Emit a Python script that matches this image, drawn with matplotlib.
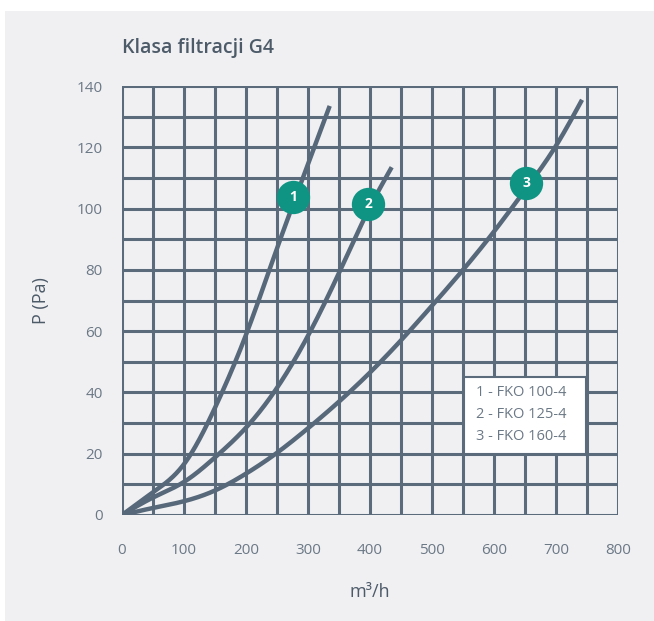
import numpy as np
import matplotlib.pyplot as plt
from matplotlib.patches import Rectangle

plt.rcParams['font.family'] = ['Open Sans', 'DejaVu Sans']

# Pressure drop curves, airflow in m3/h vs pressure in Pa
flow_1 = [0, 50, 100, 150, 200, 250, 300, 335]
pres_1 = [0, 7.4, 16.6, 35, 58.8, 87, 114.5, 133.5]

flow_2 = [0, 50, 100, 150, 200, 250, 300, 350, 400, 435]
pres_2 = [0, 5.7, 10.8, 18.8, 28.5, 41.5, 58.5, 79, 100.5, 113.5]

flow_3 = [0, 50, 100, 150, 200, 250, 300, 350, 400, 450, 500, 550, 600, 650, 700, 742]
pres_3 = [0, 2.3, 4.5, 8.0, 13.5, 20.3, 28.3, 37, 46.5, 57, 68.3, 80, 92.5, 106, 120.5, 135.5]

# Numbered badges on each curve
badge_labels = ['1', '2', '3']
badge_x = [276, 397, 652]
badge_y = [103.8, 101.5, 108.2]

legend_lines = ['1 - FKO 100-4', '2 - FKO 125-4', '3 - FKO 160-4']

x_ticks = [0, 100, 200, 300, 400, 500, 600, 700, 800]
y_ticks = [0, 20, 40, 60, 80, 100, 120, 140]

line_col = '#566879'
grid_col = '#5b6b7c'
text_col = '#6b7885'
title_col = '#4d5b69'
teal = '#0f9483'
panel = '#f0f0f3'


def natural_spline(xs, ys, n=400):
    """Natural cubic spline through the given points."""
    x = np.asarray(xs, float)
    y = np.asarray(ys, float)
    k = len(x)
    h = np.diff(x)
    A = np.zeros((k, k))
    r = np.zeros(k)
    A[0, 0] = A[-1, -1] = 1.0
    for i in range(1, k - 1):
        A[i, i - 1] = h[i - 1]
        A[i, i] = 2 * (h[i - 1] + h[i])
        A[i, i + 1] = h[i]
        r[i] = 6 * ((y[i + 1] - y[i]) / h[i] - (y[i] - y[i - 1]) / h[i - 1])
    M = np.linalg.solve(A, r)
    xx = np.linspace(x[0], x[-1], n)
    j = np.clip(np.searchsorted(x, xx) - 1, 0, k - 2)
    a = x[j + 1] - xx
    b = xx - x[j]
    hj = h[j]
    yy = (M[j] * a**3 / (6 * hj) + M[j + 1] * b**3 / (6 * hj)
          + (y[j] / hj - M[j] * hj / 6) * a + (y[j + 1] / hj - M[j + 1] * hj / 6) * b)
    return xx, yy


W, H = 654, 621
fig = plt.figure(figsize=(W / 100, H / 100), dpi=100)
fig.patch.set_facecolor('white')
fig.patches.append(Rectangle((5 / W, 0), 1, 1 - 11 / H, transform=fig.transFigure,
                             facecolor=panel, edgecolor='none', zorder=-10))

ax = fig.add_axes([122 / W, 1 - 515 / H, 496 / W, 429 / H])
ax.set_facecolor(panel)
ax.set_xlim(0, 800)
ax.set_ylim(0, 140)

for gx in np.arange(0, 801, 50):
    ax.axvline(gx, color=grid_col, lw=2.2, zorder=1)
for gy in np.arange(0, 141, 10):
    ax.axhline(gy, color=grid_col, lw=2.2, zorder=1)

for spine in ax.spines.values():
    spine.set_visible(False)

for fx, py in [(flow_1, pres_1), (flow_2, pres_2), (flow_3, pres_3)]:
    xx, yy = natural_spline(fx, py)
    ax.plot(xx, yy, color=line_col, lw=3.2, solid_capstyle='butt', zorder=3)

for lab, bx, by in zip(badge_labels, badge_x, badge_y):
    ax.plot(bx, by, 'o', ms=24, color=teal, mec='none', zorder=5)
    ax.text(bx, by, lab, color='white', fontsize=10, fontweight='bold',
            ha='center', va='center', zorder=6)

ax.set_xticks(x_ticks)
ax.set_yticks(y_ticks)
ax.tick_params(length=0, colors=text_col, labelsize=11)
ax.tick_params(axis='x', pad=20)
ax.tick_params(axis='y', pad=14)

ax.set_xlabel('m³/h', fontsize=13, color=title_col, labelpad=18)
ax.set_ylabel('P (Pa)', fontsize=13, color=title_col, labelpad=19)

fig.text(122 / W, 1 - 48 / H, 'Klasa filtracji G4', fontsize=14, fontweight='semibold',
         color=title_col, ha='left', va='center')

# legend box
lx0, lx1 = 464, 586
ly0, ly1 = 377, 454
fig.patches.append(Rectangle((lx0 / W, 1 - ly1 / H), (lx1 - lx0) / W, (ly1 - ly0) / H,
                             transform=fig.transFigure, facecolor='white',
                             edgecolor=grid_col, lw=1.5, zorder=10))
for i, s in enumerate(legend_lines):
    fig.text(476 / W, 1 - (393 + i * 21.5) / H, s, fontsize=10.5, color=text_col,
             ha='left', va='center', zorder=11)

fig.savefig('out.png', dpi=100)
